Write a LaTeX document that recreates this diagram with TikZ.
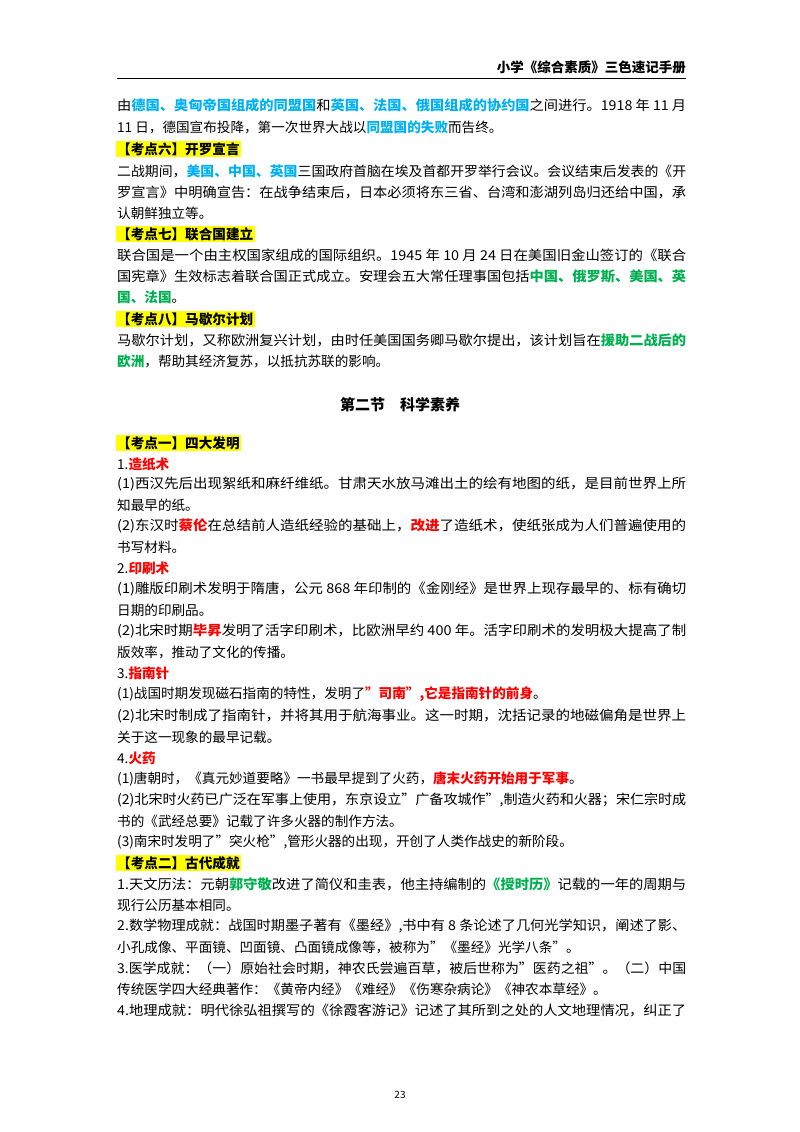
\documentclass[tikz,border=0pt]{standalone}
\usepackage{graphicx}
\usepackage{fontspec}
\setmainfont{Noto Sans CJK SC}
\definecolor{cblue}{HTML}{00B0F0}
\definecolor{cgreen}{HTML}{00B050}
\definecolor{cred}{HTML}{FF0000}
\definecolor{hl}{HTML}{FFFF00}
\newcommand\cB[1]{{\bfseries\color{cblue}#1}}
\newcommand\cG[1]{{\bfseries\color{cgreen}#1}}
\newcommand\cR[1]{{\bfseries\color{cred}#1}}
\tikzset{
 lineT/.style={anchor=west,inner sep=0pt,font=\fontsize{13.6}{16}\selectfont},
 kdbox/.style={anchor=west,fill=hl,inner sep=1.5pt,font=\bfseries\fontsize{13.6}{16}\selectfont},
}
\newcommand\Fl[2]{\node[lineT] at (117,#1) {\resizebox{569pt}{\height}{#2}};}
\newcommand\Ln[2]{\node[lineT] at (117,#1) {#2};}
\newcommand\Kd[2]{\node[kdbox] at (115.5,#1) {#2};}
\begin{document}
\begin{tikzpicture}[x=1pt,y=-1pt]
\useasboundingbox (0,0) rectangle (800,1132);
\node[anchor=base east,inner sep=0,font=\bfseries\fontsize{13.5}{15}\selectfont] (hdr) at (686,72) {小学《综合素质》三色速记手册};
\draw[line width=0.9pt] (117,78) -- (686,78);
\Fl{105}{由\cB{德国、奥匈帝国组成的同盟国}和\cB{英国、法国、俄国组成的协约国}之间进行。1918 年 11 月}
\Ln{127}{11 日，德国宣布投降，第一次世界大战以\cB{同盟国的失败}而告终。}
\Kd{149}{【考点六】开罗宣言}
\Fl{171}{二战期间，\cB{美国、中国、英国}三国政府首脑在埃及首都开罗举行会议。会议结束后发表的《开}
\Fl{192}{罗宣言》中明确宣告：在战争结束后，日本必须将东三省、台湾和澎湖列岛归还给中国，承}
\Ln{213}{认朝鲜独立等。}
\Kd{234}{【考点七】联合国建立}
\Fl{255}{联合国是一个由主权国家组成的国际组织。1945 年 10 月 24 日在美国旧金山签订的《联合}
\Fl{276}{国宪章》生效标志着联合国正式成立。安理会五大常任理事国包括\cG{中国、俄罗斯、美国、英}}
\Ln{297}{\cG{国、法国}。}
\Kd{319}{【考点八】马歇尔计划}
\Fl{340}{马歇尔计划，又称欧洲复兴计划，由时任美国国务卿马歇尔提出，该计划旨在\cG{援助二战后的}}
\Ln{361}{\cG{欧洲}，帮助其经济复苏，以抵抗苏联的影响。}
\node[font=\bfseries\fontsize{15}{18}\selectfont] (title) at (400,405) {第二节\hspace{1em}科学素养};
\Kd{443}{【考点一】四大发明}
\Ln{464}{1.\cR{造纸术}}
\Fl{484}{(1)西汉先后出现絮纸和麻纤维纸。甘肃天水放马滩出土的绘有地图的纸，是目前世界上所}
\Ln{505}{知最早的纸。}
\Fl{526}{(2)东汉时\cR{蔡伦}在总结前人造纸经验的基础上，\cR{改进}了造纸术，使纸张成为人们普遍使用的}
\Ln{547}{书写材料。}
\Ln{568}{2.\cR{印刷术}}
\Fl{589}{(1)雕版印刷术发明于隋唐，公元 868 年印制的《金刚经》是世界上现存最早的、标有确切}
\Ln{610}{日期的印刷品。}
\Fl{631}{(2)北宋时期\cR{毕昇}发明了活字印刷术，比欧洲早约 400 年。活字印刷术的发明极大提高了制}
\Ln{652}{版效率，推动了文化的传播。}
\Ln{673}{3.\cR{指南针}}
\Ln{694}{(1)战国时期发现磁石指南的特性，发明了\cR{"司南",它是指南针的前身}。}
\Fl{716}{(2)北宋时制成了指南针，并将其用于航海事业。这一时期，沈括记录的地磁偏角是世界上}
\Ln{737}{关于这一现象的最早记载。}
\Ln{758}{4.\cR{火药}}
\Ln{779}{(1)唐朝时，《真元妙道要略》一书最早提到了火药，\cR{唐末火药开始用于军事}。}
\Fl{800}{(2)北宋时火药已广泛在军事上使用，东京设立"广备攻城作",制造火药和火器；宋仁宗时成}
\Ln{821}{书的《武经总要》记载了许多火器的制作方法。}
\Ln{842}{(3)南宋时发明了"突火枪",管形火器的出现，开创了人类作战史的新阶段。}
\Kd{863}{【考点二】古代成就}
\Fl{884}{1.天文历法：元朝\cG{郭守敬}改进了简仪和圭表，他主持编制的\cG{《授时历》}记载的一年的周期与}
\Ln{905}{现行公历基本相同。}
\Fl{926}{2.数学物理成就：战国时期墨子著有《墨经》,书中有 8 条论述了几何光学知识，阐述了影、}
\Ln{947}{小孔成像、平面镜、凹面镜、凸面镜成像等，被称为"《墨经》光学八条"。}
\Fl{968}{3.医学成就：（一）原始社会时期，神农氏尝遍百草，被后世称为"医药之祖"。（二）中国}
\Ln{989}{传统医学四大经典著作：《黄帝内经》《难经》《伤寒杂病论》《神农本草经》。}
\Fl{1010}{4.地理成就：明代徐弘祖撰写的《徐霞客游记》记述了其所到之处的人文地理情况，纠正了}
\node[font=\fontsize{10}{12}\selectfont] (pg) at (400,1095) {23};
\end{tikzpicture}
\end{document}
